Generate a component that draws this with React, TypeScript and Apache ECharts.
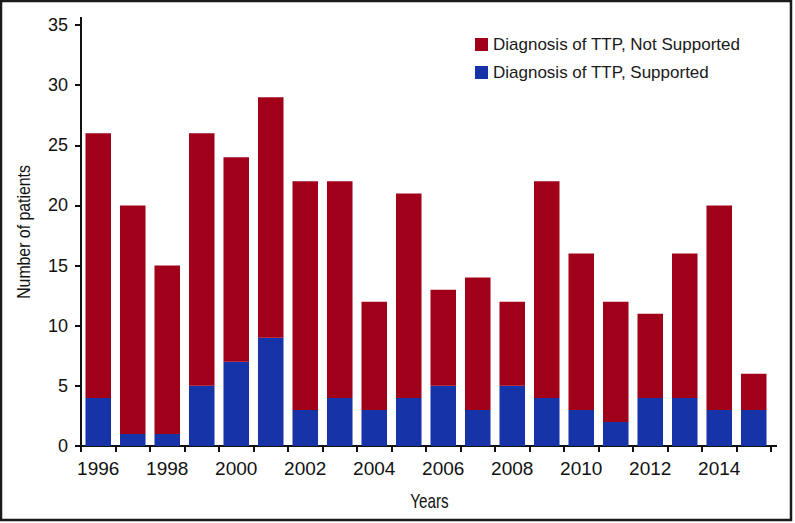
import React, { useEffect, useRef } from "react";
import * as echarts from "echarts";

const years = ["1996","1997","1998","1999","2000","2001","2002","2003","2004","2005","2006","2007","2008","2009","2010","2011","2012","2013","2014","2015"];
const supported = [4, 1, 1, 5, 7, 9, 3, 4, 3, 4, 5, 3, 5, 4, 3, 2, 4, 4, 3, 3];
const notSupported = [22, 19, 14, 21, 17, 20, 19, 18, 9, 17, 8, 11, 7, 18, 13, 10, 7, 12, 17, 3];
const seriesNames = ["Diagnosis of TTP, Not Supported", "Diagnosis of TTP, Supported"];
const xAxisTitle = "Years";
const yAxisTitle = "Number of patients";
const yTicks = { min: 0, max: 35, interval: 5 };

const RED = "#A1001A";
const BLUE = "#1633A8";
const FONT = "Liberation Sans, Arial, sans-serif";

export default function App() {
  const ref = useRef<HTMLDivElement>(null);
  useEffect(() => {
    if (!ref.current) return;
    const chart = echarts.init(ref.current, null, { renderer: "svg" });
    chart.setOption({
      animation: false,
      backgroundColor: "#ffffff",
      grid: { left: 81, right: 24, top: 25, bottom: 77, containLabel: false },
      legend: {
        orient: "vertical",
        left: 475,
        top: 36,
        padding: 0,
        itemWidth: 13,
        itemHeight: 13,
        itemGap: 11,
        icon: "rect",
        data: seriesNames,
        textStyle: { fontFamily: FONT, fontSize: 17, color: "#1a1a1a", lineHeight: 17 },
      },
      xAxis: {
        type: "category",
        data: years,
        boundaryGap: true,
        axisLine: { lineStyle: { color: "#111", width: 2 } },
        axisTick: { show: true, interval: 0, length: 6, lineStyle: { color: "#111", width: 2 } },
        axisLabel: { interval: 1, margin: 13, fontFamily: FONT, fontSize: 19, color: "#111" },
      },
      yAxis: {
        type: "value",
        min: yTicks.min,
        max: yTicks.max,
        interval: yTicks.interval,
        axisLine: { show: true, lineStyle: { color: "#111", width: 2 } },
        axisTick: { show: true, length: 6, lineStyle: { color: "#111", width: 2 } },
        axisLabel: { margin: 13, fontFamily: FONT, fontSize: 18, color: "#111" },
        splitLine: { show: false },
      },
      series: [
        {
          name: seriesNames[1],
          type: "bar",
          stack: "total",
          data: supported,
          barCategoryGap: "26%",
          itemStyle: { color: BLUE },
        },
        {
          name: seriesNames[0],
          type: "bar",
          stack: "total",
          data: notSupported,
          barCategoryGap: "26%",
          itemStyle: { color: RED },
        },
      ],
      graphic: [
        {
          type: "rect",
          shape: { x: 1, y: 1, width: 790, height: 519 },
          style: { fill: "none", stroke: "#1a1a1a", lineWidth: 2.5 },
          silent: true,
        },
        {
          type: "line",
          shape: { x1: 81, y1: 17, x2: 81, y2: 26 },
          style: { stroke: "#111", lineWidth: 2 },
          silent: true,
        },
        {
          type: "line",
          shape: { x1: 770, y1: 446, x2: 777, y2: 446 },
          style: { stroke: "#111", lineWidth: 2 },
          silent: true,
        },
        {
          type: "text",
          x: 429.5,
          y: 501,
          scaleX: 0.76,
          style: {
            text: xAxisTitle,
            fontFamily: FONT,
            fontSize: 20,
            fill: "#111",
            align: "center",
            verticalAlign: "middle",
          },
          silent: true,
        },
        {
          type: "text",
          x: 24,
          y: 232,
          rotation: Math.PI / 2,
          scaleX: 0.88,
          style: {
            text: yAxisTitle,
            fontFamily: FONT,
            fontSize: 18,
            fill: "#111",
            align: "center",
            verticalAlign: "middle",
          },
          silent: true,
        },
      ],
    });
    return () => chart.dispose();
  }, []);
  return <div ref={ref} style={{ width: 795, height: 523, position: "absolute", left: 0, top: 0 }} />;
}
